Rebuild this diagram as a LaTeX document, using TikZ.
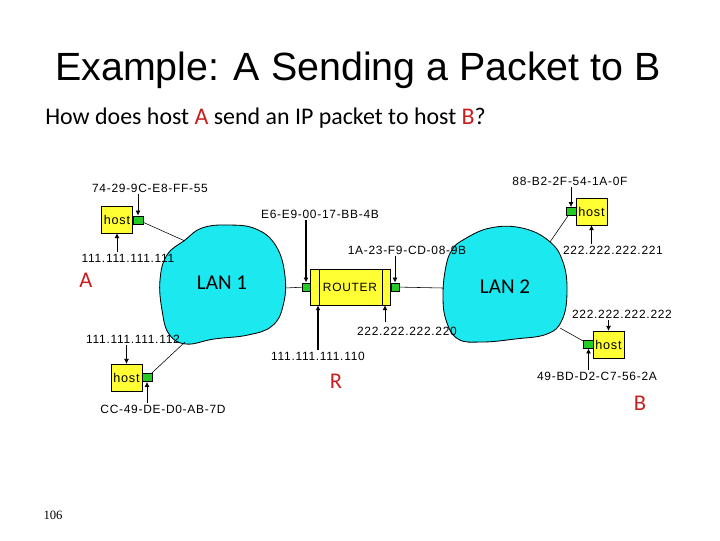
\documentclass[tikz,border=0pt]{standalone}
\usepackage{fontspec}
\setmainfont{Carlito}
\newfontfamily\titlefont{Liberation Sans}
\newfontfamily\netfont[LetterSpace=6]{Liberation Sans}
\newfontfamily\pagefont{Liberation Serif}
\usetikzlibrary{positioning,arrows.meta}
\definecolor{lancyan}{RGB}{28,232,240}
\definecolor{hostyellow}{RGB}{255,255,51}
\definecolor{portgreen}{RGB}{34,204,34}
\definecolor{markred}{RGB}{200,30,30}

\begin{document}
\begin{tikzpicture}[
  x=0.025cm, y=-0.025cm,
  net/.style={font=\netfont\fontsize{8.5}{9}\selectfont, inner sep=1pt},
  hostbox/.style={draw, fill=hostyellow, minimum width=0.78cm, minimum height=0.67cm, inner sep=0pt, font=\netfont\fontsize{9}{10}\selectfont},
  port/.style={draw, fill=portgreen, minimum width=0.24cm, minimum height=0.21cm, inner sep=0pt},
  hostmark/.style={text=markred, font=\fontsize{16}{18}\selectfont},
  lan/.style={draw, fill=lancyan, line width=0.6pt},
  pin/.style={-{Latex[length=3.5pt,width=3.5pt]}, line width=0.5pt},
  >=Stealth
]
\useasboundingbox (0,0) rectangle (720,540);

% title
\node[font=\titlefont\fontsize{28}{32}\selectfont] (title) at (358,70) {Example: A Sending a Packet to B};
\node[anchor=base west, font=\fontsize{17}{20}\selectfont, inner sep=0pt] (quest) at (45,124)
  {How does host \textcolor{markred}{A} send an IP packet to host \textcolor{markred}{B}?};

% LANs
\draw[lan] plot[smooth cycle, tension=0.7] coordinates {(185,240) (202,228) (228,225) (256,229) (276,246) (285,276) (283,306) (272,326) (248,335) (214,339) (186,344) (169,334) (162,310) (160,280) (167,255)};
\draw[lan] plot[smooth cycle, tension=0.7] coordinates {(463,240) (490,228) (522,228) (549,241) (563,262) (567,292) (562,320) (547,334) (515,339) (482,342) (458,339) (446,320) (443,294) (446,266) (452,250)};
\coordinate (lan1nw) at (185,241);
\coordinate (lan1sw) at (185,342);
\coordinate (lan1e) at (285,288);
\coordinate (lan2w) at (443,288);
\coordinate (lan2ne) at (550,242);
\coordinate (lan2se) at (560,328);
\node[font=\fontsize{15}{18}\selectfont] (lan1) at (222,283) {LAN 1};
\node[font=\fontsize{15}{18}\selectfont] (lan2) at (505,287) {LAN 2};

% router
\node[draw, fill=hostyellow, minimum width=2cm, minimum height=0.9cm, inner sep=0pt, font=\netfont\fontsize{8.5}{9}\selectfont] (router) at (350,287) {ROUTER};
\draw (router.north west) ++(10,0) -- ++(0,36);
\draw (router.north east) ++(-8,0) -- ++(0,36);
\node[port, minimum width=0.2cm] (rportL) at (306,287) {};
\node[port, minimum width=0.2cm] (rportR) at (395,287) {};
\draw (lan1e) -- (rportL);
\draw (rportR) -- (lan2w);

% hosts
\node[hostbox] (hostA) at (117,219.5) {host};
\node[port] (portA) at (138,220) {};
\node[hostbox] (hostA2) at (126.5,377.5) {host};
\node[port] (portA2) at (147,377.5) {};
\node[hostbox] (hostB1) at (591.5,211.5) {host};
\node[port] (portB1) at (571,211.5) {};
\node[hostbox] (hostB) at (608.5,344.5) {host};
\node[port] (portB) at (588.5,344) {};
\draw (portA) -- (lan1nw);
\draw (portA2) -- (lan1sw);
\draw (portB1) -- (lan2ne);
\draw (portB) -- (lan2se);

% addresses
\node[net] (macA) at (150,188) {74-29-9C-E8-FF-55};
\node[net] (ipA) at (128,258) {111.111.111.111};
\node[net] (ipA2) at (133,339) {111.111.111.112};
\node[net] (macA2) at (163,409) {CC-49-DE-D0-AB-7D};
\node[net] (macRL) at (320,214) {E6-E9-00-17-BB-4B};
\node[net] (macRR) at (407,250) {1A-23-F9-CD-08-9B};
\node[net] (ipRL) at (318,356) {111.111.111.110};
\node[net] (ipRR) at (407,331) {222.222.222.220};
\node[net] (macB1) at (570,181) {88-B2-2F-54-1A-0F};
\node[net] (ipB1) at (613,250) {222.222.222.221};
\node[net] (ipB) at (622,314) {222.222.222.222};
\node[net] (macB) at (597,376) {49-BD-D2-C7-56-2A};
\coordinate (rrtail) at (385,322);

\draw[pin] (portA.north |- macA.south) -- (portA);
\draw[pin] (hostA.south |- ipA.north) -- (hostA);
\draw[pin] (hostA2.north |- ipA2.south) -- (hostA2);
\draw[pin] (portA2.south |- macA2.north) -- (portA2);
\draw[pin, line width=1.3pt] (rportL |- macRL.south) -- (rportL);
\draw[pin] (rportR |- macRR.south) -- (rportR);
\draw[pin, line width=1.3pt] (ipRL.north) -- (ipRL.north |- router.south);
\draw[pin] (rrtail) -- (rrtail |- router.south);
\draw[pin] (portB1 |- macB1.south) -- (portB1);
\draw[pin] (hostB1.south |- ipB1.north) -- (hostB1);
\draw[pin] (hostB.north |- ipB.south) -- (hostB);
\draw[pin] (portB.south |- macB.north) -- (portB);

% hosts named
\node[hostmark] (nameA) at (86,280) {A};
\node[hostmark] (nameR) at (336,381) {R};
\node[hostmark] (nameB) at (640,403) {B};

\node[font=\pagefont\fontsize{9}{10}\selectfont] (page) at (53,515) {106};
\end{tikzpicture}
\end{document}
